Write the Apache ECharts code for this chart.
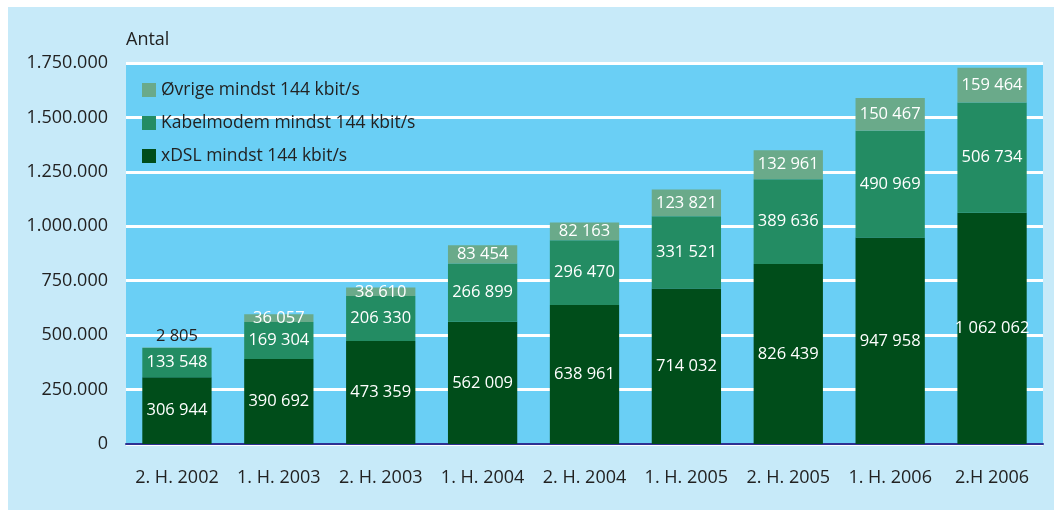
<!DOCTYPE html>
<html>
<head>
<meta charset="utf-8">
<script src="https://cdn.jsdelivr.net/npm/echarts@6/dist/echarts.min.js"></script>
<style>
  html, body { margin: 0; padding: 0; background: #ffffff; }
  #chartContainer { position: absolute; left: 8px; top: 7px; width: 1046px; height: 503px; background: #c7eaf9; }
</style>
</head>
<body>
<div id="chartContainer"></div>
<script>
var categories = ['2. H. 2002', '1. H. 2003', '2. H. 2003', '1. H. 2004', '2. H. 2004', '1. H. 2005', '2. H. 2005', '1. H. 2006', '2.H 2006'];
var xdsl = [306944, 390692, 473359, 562009, 638961, 714032, 826439, 947958, 1062062];
var kabel = [133548, 169304, 206330, 266899, 296470, 331521, 389636, 490969, 506734];
var ovrige = [2805, 36057, 38610, 83454, 82163, 123821, 132961, 150467, 159464];

var names = ['xDSL mindst 144 kbit/s', 'Kabelmodem mindst 144 kbit/s', 'Øvrige mindst 144 kbit/s'];
var colors = ['#004d1a', '#238c63', '#6aaa8a'];
var fontFamily = 'Open Sans';

function spaced(v) {
  return String(v).replace(/\B(?=(\d{3})+(?!\d))/g, ' ');
}
function dotted(v) {
  return String(v).replace(/\B(?=(\d{3})+(?!\d))/g, '.');
}

function makeSeries(name, values, color) {
  return {
    name: name,
    type: 'bar',
    stack: 'total',
    barCategoryGap: '32%',
    itemStyle: { color: color },
    label: {
      show: true,
      position: 'inside',
      color: '#ffffff',
      fontFamily: fontFamily,
      fontSize: 16.5,
      formatter: function (p) { return spaced(p.value); }
    },
    data: values.map(function (v) {
      // the tiny first segment gets its label above the bar
      if (name === names[2] && v < 10000) {
        return { value: v, label: { position: 'top', color: '#222222', distance: 3 } };
      }
      return v;
    })
  };
}

var chart = echarts.init(document.getElementById('chartContainer'));

chart.setOption({
  animation: false,
  textStyle: { fontFamily: fontFamily },
  grid: {
    left: 118, top: 56, right: 11, bottom: 66,
    show: true, backgroundColor: '#6acff5', borderWidth: 0
  },
  legend: {
    orient: 'vertical',
    left: 134,
    top: 71,
    padding: 0,
    itemWidth: 14,
    itemHeight: 14,
    itemGap: 9,
    icon: 'rect',
    data: [names[2], names[1], names[0]],
    textStyle: { fontSize: 17.5, lineHeight: 24, color: '#222222', fontFamily: fontFamily, padding: [0, 0, 0, 0] }
  },
  graphic: [{
    type: 'text',
    left: 118,
    top: 24,
    style: { text: 'Antal', fontSize: 18, fill: '#222222', fontFamily: fontFamily }
  }],
  xAxis: {
    type: 'category',
    data: categories,
    axisTick: { show: false },
    axisLine: { lineStyle: { color: '#2e3192', width: 2 } },
    axisLabel: { interval: 0, fontSize: 18, color: '#222222', margin: 25, fontFamily: fontFamily }
  },
  yAxis: {
    type: 'value',
    min: 0,
    max: 1750000,
    interval: 250000,
    axisLine: { show: false },
    axisTick: { show: false },
    splitLine: { lineStyle: { color: '#ffffff', width: 3 } },
    axisLabel: {
      fontSize: 18, color: '#222222', margin: 18, fontFamily: fontFamily,
      formatter: function (v) { return dotted(v); }
    }
  },
  series: [
    makeSeries(names[0], xdsl, colors[0]),
    makeSeries(names[1], kabel, colors[1]),
    makeSeries(names[2], ovrige, colors[2])
  ]
});

window.addEventListener('resize', function () {
  chart.resize();
});
</script>
</body>
</html>
